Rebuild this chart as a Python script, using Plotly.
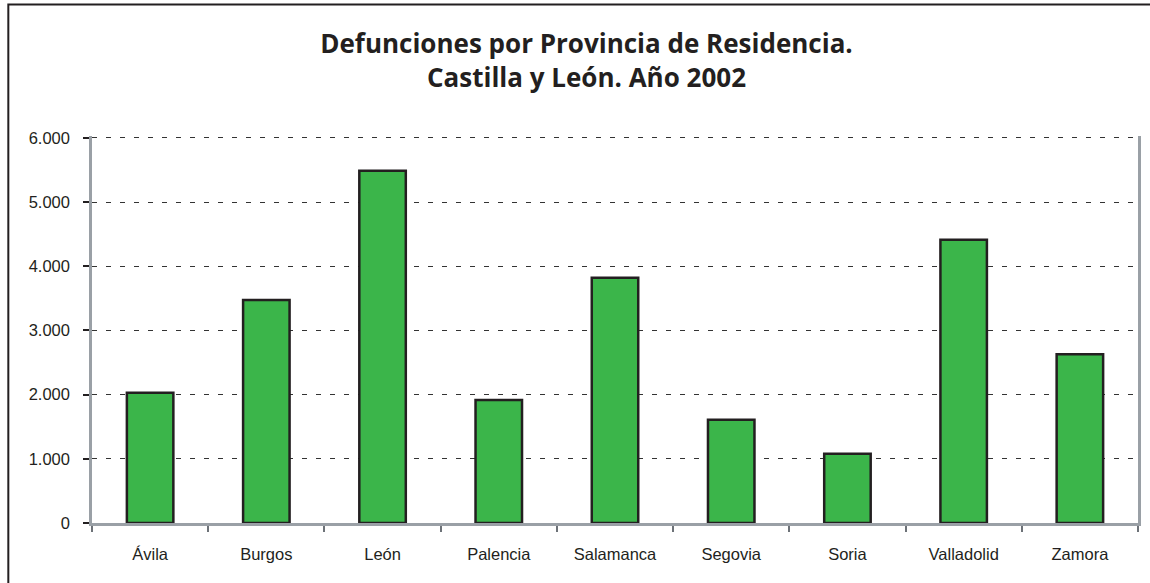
import plotly.graph_objects as go

# Datos
provincias = ['Ávila', 'Burgos', 'León', 'Palencia', 'Salamanca',
              'Segovia', 'Soria', 'Valladolid', 'Zamora']
defunciones = [2030, 3475, 5490, 1915, 3820, 1610, 1080, 4415, 2630]
ticks_y = [0, 1000, 2000, 3000, 4000, 5000, 6000]

fig = go.Figure()

# Barras
fig.add_trace(go.Bar(
    x=provincias,
    y=defunciones,
    marker=dict(color='#3bb54a', line=dict(color='#231f20', width=2.5)),
    width=0.4,
))

# Diseño
fig.update_layout(
    width=1150, height=583,
    margin=dict(l=92, r=12, t=136, b=60),
    paper_bgcolor='white',
    plot_bgcolor='white',
    separators=',.',
    showlegend=False,
    font=dict(family='Liberation Sans, Arial', size=16.5, color='#231f20'),
    title=dict(
        text='Defunciones por Provincia de Residencia.<br>Castilla y León. Año 2002',
        x=0.51, xanchor='center', yref='container', y=0.909, yanchor='middle',
        font=dict(family='Open Sans', size=26, color='#231f20', weight='bold'),
    ),
    shapes=[dict(type='rect', xref='paper', yref='paper',
                 x0=-0.08, x1=1.2, y0=-0.3, y1=1.34,
                 line=dict(color='#231f20', width=2))],
)

fig.update_xaxes(
    automargin=False,
    showline=True, linecolor='#9aa0a6', linewidth=2.5,
    ticks='outside', tickson='boundaries', ticklen=6,
    tickcolor='#6d7278', tickwidth=1.5,
    ticklabelstandoff=14,
    showgrid=False,
)

fig.update_yaxes(
    automargin=False,
    range=[0, 6030], tickvals=ticks_y, tickformat=',d',
    showline=True, mirror=True, linecolor='#9aa0a6', linewidth=2.5,
    ticks='outside', ticklen=6, tickcolor='#231f20', tickwidth=1.5,
    ticklabelstandoff=10,
    showgrid=True, gridcolor='#333333', gridwidth=1.3, griddash='5px,9px',
    zeroline=False,
)

# quitar el margen del body para que el gráfico quede en (0, 0)
fig.write_html('out.html', config={'displayModeBar': False},
               post_script="document.body.style.margin='0';")
